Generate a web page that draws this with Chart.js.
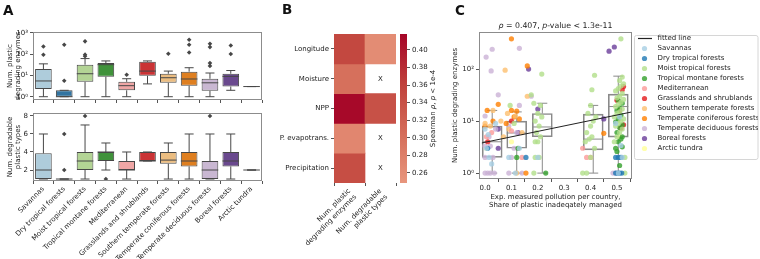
<!DOCTYPE html>
<html>
<head>
<meta charset="utf-8">
<script src="https://cdn.jsdelivr.net/npm/chart.js@4.4.1/dist/chart.umd.min.js"></script>
<style>
  html, body { margin: 0; padding: 0; background: #fff; }
  #wrap { position: relative; width: 760px; height: 259px; overflow: hidden; }
  #wrap canvas { position: absolute; left: 0; top: 0; }
</style>
</head>
<body>
<div id="wrap">
  <canvas id="aTop" width="760" height="259"></canvas>
  <canvas id="aBottom" width="760" height="259"></canvas>
  <canvas id="heat" width="760" height="259"></canvas>
  <canvas id="cbar" width="760" height="259"></canvas>
  <canvas id="scatterC" width="760" height="259"></canvas>
</div>
<script>
// ---- data ----
const biomes = ['Savannas', 'Dry tropical forests', 'Moist tropical forests', 'Tropical montane forests',
  'Mediterranean', 'Grasslands and shrublands', 'Southern temperate forests', 'Temperate coniferous forests',
  'Temperate deciduous forests', 'Boreal forests', 'Arctic tundra'];
const biomeColors = ['#a6cee3', '#1f78b4', '#b2df8a', '#33a02c', '#fb9a99', '#e31a1c',
  '#fdbf6f', '#ff7f00', '#cab2d6', '#6a3d9a', '#ffff99'];

// A (top): plastic degrading enzymes per biome
const enzLow  = [1, 1, 1, 1, 1, 4, 1, 1, 1, 2, 3];
const enzQ1   = [2.3, 1, 5, 8.7, 2, 9.6, 4.5, 3.3, 1.9, 3, 3];
const enzMed  = [5.5, 1, 12, 32, 3.3, 16, 7.8, 6.8, 4.5, 9, 3];
const enzQ3   = [20, 2, 32, 38, 5, 44, 12, 15, 7, 12, 3];
const enzHigh = [35, 2, 62, 48, 7, 48, 16, 23, 13, 17, 3];
const enzOut  = [[230, 94], [275, 5.6], [400, 95, 80], [], [10.8], [], [104], [475, 277, 120], [308, 215, 38, 28], [256, 101], []];
const enzTicks = [1, 10, 100, 1000];
const enzTickText = ['10⁰', '10¹', '10²', '10³'];

// A (bottom): degradable plastic types per biome
const typLow  = [1, 1, 1, 2, 1, 3, 1, 1, 1, 1, 2];
const typQ1   = [1, 1, 2, 3, 2, 3, 2.7, 2.4, 1, 2.4, 2];
const typMed  = [2, 1, 3, 4, 2, 3, 3.1, 3, 2, 3, 2];
const typQ3   = [3.85, 1, 4, 4, 3, 4, 4, 4, 3, 4, 2];
const typHigh = [6, 1, 7, 5, 4, 4, 5, 6, 6, 6, 2];
const typOut  = [[], [6, 2], [8], [1], [], [], [], [], [8], [], []];
const typTicks = [2, 4, 6, 8];

// B: Spearman rho heatmap
const heatRows = ['Longitude', 'Moisture', 'NPP', 'P. evapotrans.', 'Precipitation'];
const heatCols = [['Num. plastic', 'degrading enzymes'], ['Num. degradable', 'plastic types']];
const rhoEnzymes = [0.352, 0.300, 0.414, 0.270, 0.345];
const rhoTypes   = [0.262, null, 0.340, null, null];
const cbMin = 0.2486, cbMax = 0.418;
const cbTicks = [0.26, 0.28, 0.30, 0.32, 0.34, 0.36, 0.38, 0.40];

// C: enzymes vs. mismanaged plastic share
const pollTicks = [0, 0.1, 0.2, 0.3, 0.4, 0.5];
const cTicks = [1, 10, 100];
const cTickText = ['10⁰', '10¹', '10²'];
const boxPos  = [0.027, 0.12, 0.217, 0.41, 0.505];
const boxLow  = [1, 1, 1, 1, 1];
const boxQ1   = [2, 3, 5, 2.8, 4.9];
const boxMed  = [4, 5.9, 7.7, 4.5, 19];
const boxQ3   = [8, 10, 14, 13.6, 33];
const boxHigh = [16, 15, 22, 20, 73];
const fitX = [-0.012, 0.557];
const fitY = [3.8, 15];

const ptsSavannas = [[0.005, 3], [0.015, 2], [0.025, 1.5], [0.0, 7], [0.012, 5.5], [0.09, 2], [0.13, 3], [0.115, 1], [0.2, 2],
  [0.505, 1], [0.52, 2], [0.515, 3.4], [0.495, 9], [0.51, 12], [0.04, 9]];
const ptsDryTropical = [[0.155, 2], [0.495, 2], [0.505, 2], [0.515, 2], [0.495, 1], [0.503, 1], [0.51, 1], [0.518, 1], [0.01, 3]];
const ptsMoistTropical = [[0.095, 20], [0.11, 9],
  [0.185, 1], [0.19, 2], [0.205, 2], [0.19, 4], [0.2, 4], [0.21, 5], [0.195, 6], [0.205, 8], [0.19, 10], [0.215, 12],
  [0.2, 14], [0.21, 20], [0.215, 80], [0.175, 32], [0.185, 22],
  [0.37, 1], [0.385, 1], [0.40, 2], [0.415, 3], [0.38, 4], [0.395, 4.5], [0.405, 5], [0.385, 6], [0.4, 8], [0.41, 10],
  [0.42, 12], [0.39, 14], [0.40, 20], [0.405, 40], [0.415, 76],
  [0.49, 4], [0.5, 5], [0.51, 6], [0.52, 7], [0.495, 8], [0.505, 9], [0.515, 10], [0.525, 11], [0.49, 12], [0.5, 14],
  [0.51, 15], [0.52, 17], [0.495, 19], [0.505, 21], [0.515, 23], [0.525, 26], [0.5, 28], [0.51, 30], [0.52, 34],
  [0.495, 38], [0.505, 42], [0.515, 47], [0.525, 52], [0.51, 60], [0.52, 70], [0.515, 380], [0.53, 1], [0.53, 2]];
const ptsMontane = [[0.23, 1], [0.12, 2], [0.125, 3], [0.495, 3], [0.505, 4], [0.515, 4.5], [0.52, 5], [0.5, 6], [0.51, 7.5],
  [0.52, 8.5], [0.495, 9.5], [0.505, 11], [0.515, 13], [0.5, 16], [0.51, 18], [0.52, 22], [0.505, 25], [0.51, 1.4],
  [0.52, 3.2], [0.5, 2.6]];
const ptsMediterranean = [[0.37, 3], [0.385, 2], [0.40, 2], [0.025, 6], [0.005, 5], [0.14, 2], [0.1, 6.5]];
const ptsGrasslands = [[0.01, 4], [0.1, 10], [0.51, 16], [0.52, 40], [0.525, 46], [0.515, 7.3], [0.525, 8.5], [0.50, 25]];
const ptsSouthern = [[0.076, 95], [0.085, 14], [0.115, 12.5], [0.0, 9], [0.02, 8], [0.06, 10], [0.09, 7], [0.14, 6],
  [0.03, 16], [0.12, 1], [0.16, 30], [0.07, 5]];
const ptsConiferous = [[0.10, 380], [0.16, 115], [0.05, 21], [0.008, 16], [0.1, 16], [0.12, 15.5], [0.13, 11], [0.45, 5.8],
  [0.155, 1], [0.0, 8], [0.03, 10], [0.08, 9], [0.11, 12]];
const ptsDeciduous = [[0.004, 170], [0.027, 240], [0.023, 92], [0.13, 250], [0.05, 32], [0.0, 12.5], [0.0, 3.3], [0.02, 3.3],
  [0.0, 2], [0.03, 2], [0.0, 1], [0.01, 1], [0.02, 1], [0.035, 1], [0.015, 5], [0.04, 7], [0.09, 1], [0.1, 2], [0.11, 3],
  [0.12, 6], [0.14, 1], [0.175, 30], [0.09, 8], [0.13, 20], [0.495, 1], [0.485, 1]];
const ptsBoreal = [[0.165, 100], [0.05, 7], [0.05, 3], [0.2, 17], [0.45, 11], [0.47, 220], [0.49, 265], [0.125, 6]];
const ptsArctic = [[0.005, 3], [0.51, 5], [0.1, 4]];
const biomePoints = [ptsSavannas, ptsDryTropical, ptsMoistTropical, ptsMontane, ptsMediterranean, ptsGrasslands,
  ptsSouthern, ptsConiferous, ptsDeciduous, ptsBoreal, ptsArctic];

// ---- style ----
const TXT = '#222';
const SPINE = '#8c8c8c';
const TICKC = '#555';
const EDGE = '#474747';
const FAM = 'DejaVu Sans';
const FS = 7;

Chart.defaults.font.family = FAM;
Chart.defaults.font.size = FS;
Chart.defaults.color = TXT;
Chart.defaults.animation = false;
Chart.defaults.responsive = false;
Chart.defaults.plugins.legend.display = false;
Chart.defaults.plugins.tooltip.enabled = false;

function hexRgb(h) {
    return [1, 3, 5].map(i => parseInt(h.slice(i, i + 2), 16));
}
// seaborn-like desaturation (saturation * 0.75)
function desat(h) {
    const c = hexRgb(h);
    const l = (Math.max(...c) + Math.min(...c)) / 2;
    return 'rgb(' + c.map(v => Math.round(l + (v - l) * 0.75)).join(',') + ')';
}
function alpha(h, a) {
    return 'rgba(' + hexRgb(h).join(',') + ',' + a + ')';
}
const cmapStops = [[0.2486, [232, 150, 125]], [0.30, [214, 112, 92]], [0.36, [192, 66, 60]], [0.418, [165, 5, 40]]];
function cmap(v) {
    for (let i = 1; i < cmapStops.length; i++) {
        const [v0, c0] = cmapStops[i - 1], [v1, c1] = cmapStops[i];
        if (v <= v1 || i === cmapStops.length - 1) {
            const t = Math.max(0, Math.min(1, (v - v0) / (v1 - v0)));
            return 'rgb(' + c0.map((c, k) => Math.round(c + (c1[k] - c) * t)).join(',') + ')';
        }
    }
}

function gridOpts() {
    return { display: true, drawOnChartArea: false, drawTicks: true, tickLength: 3, color: TICKC };
}

// ---- plugins ----
const framePlugin = {
    id: 'frame',
    afterDraw(chart) {
        const a = chart.chartArea, ctx = chart.ctx;
        ctx.save();
        ctx.strokeStyle = SPINE;
        ctx.lineWidth = 1;
        ctx.strokeRect(Math.round(a.left) + 0.5, Math.round(a.top) + 0.5,
            Math.round(a.right - a.left) - 1, Math.round(a.bottom - a.top) - 1);
        ctx.restore();
    }
};

const whiskerPlugin = {
    id: 'whiskers',
    afterDatasetDraw(chart, args, opts) {
        if (args.index !== opts.dataset) return;
        const ctx = chart.ctx, xs = chart.scales.x, ys = chart.scales.y;
        ctx.save();
        ctx.strokeStyle = opts.color;
        ctx.lineWidth = 1;
        opts.med.forEach((m, i) => {
            const cx = xs.getPixelForValue(opts.pos ? opts.pos[i] : i);
            const yq1 = ys.getPixelForValue(opts.q1[i]), yq3 = ys.getPixelForValue(opts.q3[i]);
            const ylo = ys.getPixelForValue(opts.lo[i]), yhi = ys.getPixelForValue(opts.hi[i]);
            const ym = ys.getPixelForValue(m);
            ctx.beginPath();
            ctx.moveTo(cx, yq1); ctx.lineTo(cx, ylo);
            ctx.moveTo(cx - opts.cap, ylo); ctx.lineTo(cx + opts.cap, ylo);
            ctx.moveTo(cx, yq3); ctx.lineTo(cx, yhi);
            ctx.moveTo(cx - opts.cap, yhi); ctx.lineTo(cx + opts.cap, yhi);
            ctx.moveTo(cx - opts.half, ym); ctx.lineTo(cx + opts.half, ym);
            ctx.stroke();
        });
        ctx.restore();
    }
};

function drawSegments(ctx, segs, x, y, size, center) {
    const fonts = segs.map(s => (s[1] ? 'italic ' : '') + size + 'px "' + FAM + '"');
    let total = 0;
    segs.forEach((s, i) => { ctx.font = fonts[i]; total += ctx.measureText(s[0]).width; });
    let cx = center ? x - total / 2 : x;
    segs.forEach((s, i) => {
        ctx.font = fonts[i];
        ctx.fillText(s[0], cx, y);
        cx += ctx.measureText(s[0]).width;
    });
}

const lettersPlugin = {
    id: 'letters',
    afterDraw(chart) {
        const ctx = chart.ctx;
        ctx.save();
        ctx.fillStyle = '#111';
        ctx.font = 'bold 13.5px "' + FAM + '"';
        ctx.textBaseline = 'alphabetic';
        ctx.fillText('A', 3, 15);
        ctx.fillText('B', 282, 14);
        ctx.fillText('C', 455, 15);
        ctx.restore();
    }
};

// ---- A top ----
function outlierData(out) {
    const pts = [];
    out.forEach((vals, i) => vals.forEach(v => pts.push({ x: biomes[i], y: v })));
    return pts;
}

new Chart(document.getElementById('aTop'), {
    type: 'bar',
    data: {
        labels: biomes,
        datasets: [{
            data: enzQ1.map((q, i) => [q, enzQ3[i]]),
            backgroundColor: biomeColors.map(desat),
            borderColor: EDGE,
            borderWidth: 1,
            borderSkipped: false,
            barPercentage: 0.8,
            categoryPercentage: 1,
            order: 2
        }, {
            type: 'scatter',
            data: outlierData(enzOut),
            pointStyle: 'rectRot',
            pointRadius: 2.3,
            backgroundColor: EDGE,
            borderWidth: 0,
            order: 1
        }]
    },
    options: {
        layout: { padding: { left: 0, top: 32, right: 498, bottom: 154 } },
        plugins: {
            whiskers: { dataset: 0, color: EDGE, cap: 4.5, half: 8.3, lo: enzLow, q1: enzQ1, med: enzMed, q3: enzQ3, hi: enzHigh }
        },
        scales: {
            x: {
                offset: true,
                grid: gridOpts(),
                border: { display: false },
                ticks: { display: false },
                afterFit: s => { s.height = 5; }
            },
            y: {
                type: 'logarithmic',
                min: 0.72,
                max: 1100,
                grid: gridOpts(),
                border: { display: false },
                ticks: { padding: 2, autoSkip: false, callback: (v, i) => enzTickText[i] },
                afterBuildTicks: s => { s.ticks = enzTicks.map(v => ({ value: v })); },
                afterFit: s => { s.width = 33; },
                title: { display: true, text: ['Num. plastic', 'degrading enzymes'], padding: { top: 5.5, bottom: 0 }, font: { size: FS } }
            }
        }
    },
    plugins: [whiskerPlugin, framePlugin, lettersPlugin]
});

// ---- A bottom ----
new Chart(document.getElementById('aBottom'), {
    type: 'bar',
    data: {
        labels: biomes,
        datasets: [{
            data: typQ1.map((q, i) => [q, typQ3[i]]),
            backgroundColor: biomeColors.map(desat),
            borderColor: EDGE,
            borderWidth: 1,
            borderSkipped: false,
            barPercentage: 0.8,
            categoryPercentage: 1,
            order: 2
        }, {
            type: 'scatter',
            data: outlierData(typOut),
            pointStyle: 'rectRot',
            pointRadius: 2.3,
            backgroundColor: EDGE,
            borderWidth: 0,
            order: 1
        }]
    },
    options: {
        layout: { padding: { left: 0, top: 113, right: 498, bottom: 0 } },
        plugins: {
            whiskers: { dataset: 0, color: EDGE, cap: 4.5, half: 8.3, lo: typLow, q1: typQ1, med: typMed, q3: typQ3, hi: typHigh }
        },
        scales: {
            x: {
                offset: true,
                grid: gridOpts(),
                border: { display: false },
                ticks: { autoSkip: false, minRotation: 45, maxRotation: 45, padding: 1 },
                afterFit: s => { s.height = 78; }
            },
            y: {
                min: 0.78,
                max: 8.33,
                grid: gridOpts(),
                border: { display: false },
                ticks: { padding: 2, autoSkip: false, callback: v => String(v) },
                afterBuildTicks: s => { s.ticks = typTicks.map(v => ({ value: v })); },
                afterFit: s => { s.width = 33; },
                title: { display: true, text: ['Num. degradable', 'plastic types'], padding: { top: 5.5, bottom: 0 }, font: { size: FS } }
            }
        }
    },
    plugins: [whiskerPlugin, framePlugin]
});

// ---- B heatmap ----
const xMarkPlugin = {
    id: 'xmarks',
    afterDatasetsDraw(chart) {
        const ctx = chart.ctx, xs = chart.scales.x, ys = chart.scales.y;
        ctx.save();
        ctx.fillStyle = TXT;
        ctx.font = FS + 'px "' + FAM + '"';
        ctx.textAlign = 'center';
        ctx.textBaseline = 'middle';
        heatRows.forEach((r, i) => {
            [rhoEnzymes[i], rhoTypes[i]].forEach((v, j) => {
                if (v === null) ctx.fillText('X', xs.getPixelForValue(j), ys.getPixelForValue(i + 0.5));
            });
        });
        ctx.restore();
    }
};

new Chart(document.getElementById('heat'), {
    type: 'bar',
    data: {
        labels: heatCols,
        datasets: heatRows.map((r, i) => ({
            data: [rhoEnzymes[i], rhoTypes[i]].map(v => v === null ? null : [i, i + 1]),
            backgroundColor: [rhoEnzymes[i], rhoTypes[i]].map(v => v === null ? 'rgba(0,0,0,0)' : cmap(v)),
            borderWidth: 0,
            barPercentage: 1,
            categoryPercentage: 1,
            grouped: false
        }))
    },
    options: {
        layout: { padding: { left: 254, top: 34, right: 364, bottom: 6 } },
        scales: {
            x: {
                offset: true,
                grid: gridOpts(),
                border: { display: false },
                ticks: { autoSkip: false, minRotation: 45, maxRotation: 45, padding: 1 },
                afterFit: s => { s.height = 70; }
            },
            y: {
                min: 0,
                max: 5,
                reverse: true,
                grid: gridOpts(),
                border: { display: false },
                ticks: { padding: 2, autoSkip: false, callback: (v, i) => heatRows[i] },
                afterBuildTicks: s => { s.ticks = heatRows.map((r, i) => ({ value: i + 0.5 })); },
                afterFit: s => { s.width = 80; }
            }
        }
    },
    plugins: [xMarkPlugin]
});

// ---- B colorbar ----
const cbarLabelPlugin = {
    id: 'cbarLabel',
    afterDraw(chart) {
        const ctx = chart.ctx, a = chart.chartArea;
        ctx.save();
        ctx.fillStyle = TXT;
        ctx.textBaseline = 'middle';
        ctx.translate(433, (a.top + a.bottom) / 2);
        ctx.rotate(-Math.PI / 2);
        drawSegments(ctx, [['Spearman ', false], ['ρ', true], [', ', false], ['p', true], [' < 1e-4', false]], 0, 0, FS, true);
        ctx.restore();
    }
};

new Chart(document.getElementById('cbar'), {
    type: 'bar',
    data: {
        labels: [''],
        datasets: [{
            data: [[cbMin, cbMax]],
            backgroundColor(c) {
                const ch = c.chart, ys = ch.scales.y;
                if (!ys || !ch.chartArea) return 'rgba(0,0,0,0)';
                const g = ch.ctx.createLinearGradient(0, ys.getPixelForValue(cbMin), 0, ys.getPixelForValue(cbMax));
                cmapStops.forEach(s => g.addColorStop((s[0] - cbMin) / (cbMax - cbMin), cmap(s[0])));
                return g;
            },
            borderWidth: 0,
            barPercentage: 1,
            categoryPercentage: 1
        }]
    },
    options: {
        layout: { padding: { left: 400, top: 34, right: 303, bottom: 76 } },
        scales: {
            x: { display: false, offset: true },
            y: {
                position: 'right',
                min: cbMin,
                max: cbMax,
                grid: gridOpts(),
                border: { display: false },
                ticks: { padding: 2, autoSkip: false, callback: v => v.toFixed(2) },
                afterBuildTicks: s => { s.ticks = cbTicks.map(v => ({ value: v })); },
                afterFit: s => { s.width = 50; }
            }
        }
    },
    plugins: [cbarLabelPlugin]
});

// ---- C scatter ----
function dotMarker(color) {
    const c = document.createElement('canvas');
    c.width = 7; c.height = 7;
    const g = c.getContext('2d');
    g.fillStyle = color;
    g.beginPath(); g.arc(3.5, 3.5, 2.6, 0, Math.PI * 2); g.fill();
    return c;
}
function lineMarker(color) {
    const c = document.createElement('canvas');
    c.width = 14; c.height = 3;
    const g = c.getContext('2d');
    g.strokeStyle = color; g.lineWidth = 1.2;
    g.beginPath(); g.moveTo(0, 1.5); g.lineTo(14, 1.5); g.stroke();
    return c;
}

const cTitlePlugin = {
    id: 'cTitle',
    afterDraw(chart) {
        const ctx = chart.ctx, a = chart.chartArea;
        ctx.save();
        ctx.fillStyle = TXT;
        ctx.textBaseline = 'alphabetic';
        drawSegments(ctx, [['ρ', true], [' = 0.407, ', false], ['p', true], ['-value < 1.3e-11', false]],
            (a.left + a.right) / 2, a.top - 4, 7.8, true);
        ctx.restore();
    }
};

const legendFramePlugin = {
    id: 'legendFrame',
    beforeDraw(chart) {
        const lg = chart.legend;
        if (!lg || !lg.legendItems) return;
        const ctx = chart.ctx;
        const n = lg.legendItems.length;
        const x = Math.round(lg.left) + 2.5, y = Math.round(lg.top) + 3.5;
        const w = 758 - x, h = n * (FS + 3) + 4;
        ctx.save();
        ctx.strokeStyle = '#d6d6d6';
        ctx.fillStyle = 'rgba(255,255,255,0.8)';
        ctx.lineWidth = 1;
        ctx.beginPath();
        ctx.roundRect(x, y, w, h, 2);
        ctx.fill();
        ctx.stroke();
        ctx.restore();
    }
};

const cDatasets = [{
    type: 'bar',
    label: '_boxes',
    data: boxPos.map((p, i) => ({ x: p, y: [boxQ1[i], boxQ3[i]] })),
    backgroundColor: 'rgba(255,255,255,0)',
    borderColor: '#8a8a8a',
    borderWidth: 1,
    borderSkipped: false,
    barThickness: 20,
    order: 30
}, {
    type: 'line',
    label: 'fitted line',
    data: fitX.map((x, i) => ({ x: x, y: fitY[i] })),
    borderColor: '#222',
    borderWidth: 1,
    pointRadius: 0,
    order: 0
}];
biomes.forEach((b, i) => {
    cDatasets.push({
        type: 'scatter',
        label: b,
        data: biomePoints[i].map(p => ({ x: p[0], y: p[1] })),
        backgroundColor: alpha(biomeColors[i], 0.8),
        borderWidth: 0,
        pointRadius: 2.6,
        order: i + 1
    });
});

new Chart(document.getElementById('scatterC'), {
    type: 'bar',
    data: { datasets: cDatasets },
    options: {
        layout: { padding: { left: 439, top: 32, right: 2, bottom: 40 } },
        plugins: {
            whiskers: { dataset: 0, color: '#8a8a8a', pos: boxPos, cap: 5, half: 10, lo: boxLow, q1: boxQ1, med: boxMed, q3: boxQ3, hi: boxHigh },
            legend: {
                display: true,
                position: 'right',
                align: 'start',
                fullSize: false,
                maxWidth: 126,
                labels: {
                    usePointStyle: true,
                    pointStyleWidth: 19,
                    boxHeight: 3.6,
                    padding: 3,
                    color: TXT,
                    font: { size: FS },
                    filter: item => item.text !== '_boxes',
                    generateLabels(chart) {
                        const items = Chart.defaults.plugins.legend.labels.generateLabels(chart);
                        items.forEach(it => {
                            const ds = chart.data.datasets[it.datasetIndex];
                            it.pointStyle = ds.type === 'line' ? lineMarker(ds.borderColor) : dotMarker(ds.backgroundColor);
                        });
                        return items;
                    }
                }
            }
        },
        scales: {
            x: {
                type: 'linear',
                offset: false,
                min: -0.023,
                max: 0.557,
                grid: gridOpts(),
                border: { display: false },
                ticks: { padding: 2, autoSkip: false, callback: v => v.toFixed(1) },
                afterBuildTicks: s => { s.ticks = pollTicks.map(v => ({ value: v })); },
                afterFit: s => { s.height = 40; },
                title: {
                    display: true,
                    text: ['Exp. measured pollution per country,', 'Share of plastic inadeqately managed'],
                    padding: { top: 0, bottom: 9.4 },
                    font: { size: FS }
                }
            },
            y: {
                type: 'logarithmic',
                min: 0.77,
                max: 515,
                grid: gridOpts(),
                border: { display: false },
                ticks: { padding: 2, autoSkip: false, callback: (v, i) => cTickText[i] },
                afterBuildTicks: s => { s.ticks = cTicks.map(v => ({ value: v })); },
                afterFit: s => { s.width = 40; },
                title: { display: true, text: 'Num. plastic degrading enzymes', padding: { top: 11.8, bottom: 0 }, font: { size: FS } }
            }
        }
    },
    plugins: [whiskerPlugin, framePlugin, cTitlePlugin, legendFramePlugin]
});
</script>
</body>
</html>
